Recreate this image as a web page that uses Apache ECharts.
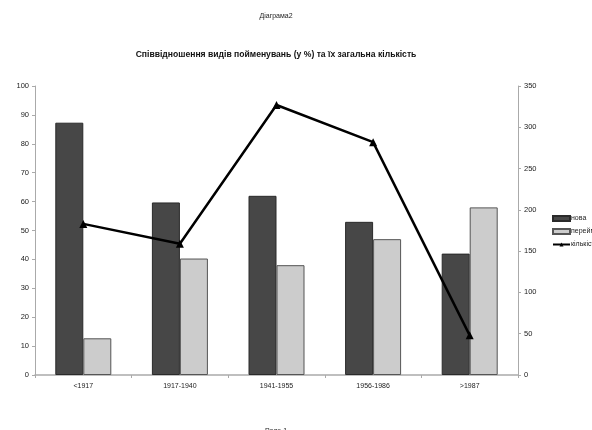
<!DOCTYPE html>
<html><head><meta charset="utf-8">
<script src="https://cdn.jsdelivr.net/npm/echarts@6/dist/echarts.min.js"></script>
<style>html,body{margin:0;padding:0;background:#fff}#c{width:592px;height:430px}</style>
</head><body><div id="c"></div>
<script>
const categories = ['<1917', '1917-1940', '1941-1955', '1956-1986', '>1987'];
const novaValues = [87.3, 59.7, 62, 53, 42];
const pereimValues = [12.7, 40.3, 38, 47, 58];
const countValues = [183, 159, 327, 282, 48];
const leftTicks = [0, 10, 20, 30, 40, 50, 60, 70, 80, 90, 100];
const rightTicks = [0, 50, 100, 150, 200, 250, 300, 350];
const seriesNames = ['нова', 'перейменована', 'кількість'];

const chart = echarts.init(document.getElementById('c'));
const F = 'Liberation Sans, Arial, sans-serif';
chart.setOption({
  animation: false,
  textStyle: { fontFamily: F },
  title: [
    { text: 'Діаграма2', left: 271, textAlign: 'center', top: 8, textStyle: { fontSize: 7, fontWeight: 'normal', color: '#222', fontFamily: F } },
    { text: 'Співвідношення видів пойменувань (у %) та їх загальна кількість', left: 271, textAlign: 'center', top: 45, textStyle: { fontSize: 8.6, fontWeight: 'bold', color: '#111', fontFamily: F } },
    { text: 'Page 1', left: 271, textAlign: 'center', top: 423, textStyle: { fontSize: 7, fontWeight: 'normal', color: '#222', fontFamily: F } }
  ],
  legend: {
    orient: 'vertical', left: 547, top: 210, itemGap: 6, itemWidth: 17, itemHeight: 5,
    textStyle: { fontSize: 7, color: '#222', fontFamily: F, padding: [0, 0, 0, -4] },
    data: [
      { name: seriesNames[0], icon: 'rect' },
      { name: seriesNames[1], icon: 'rect' },
      { name: seriesNames[2] }
    ]
  },
  grid: { left: 35, right: 74, top: 86, bottom: 55 },
  xAxis: {
    type: 'category', data: categories,
    axisLine: { lineStyle: { color: '#aaa', width: 1.5 } },
    axisTick: { show: true, length: 3, lineStyle: { color: '#aaa' } },
    axisLabel: { fontSize: 7, color: '#222', margin: 8 }
  },
  yAxis: [
    { type: 'value', min: 0, max: 100, interval: 10, splitLine: { show: false },
      axisLine: { show: true, lineStyle: { color: '#aaa' } },
      axisTick: { show: true, length: 3, lineStyle: { color: '#aaa' } },
      axisLabel: { fontSize: 7.5, color: '#222', margin: 6,
        formatter: v => leftTicks.includes(v) ? String(v) : '' } },
    { type: 'value', min: 0, max: 350, interval: 50, splitLine: { show: false },
      axisLine: { show: true, lineStyle: { color: '#aaa' } },
      axisTick: { show: true, length: 3, lineStyle: { color: '#aaa' } },
      axisLabel: { fontSize: 7.5, color: '#222', margin: 6,
        formatter: v => rightTicks.includes(v) ? String(v) : '' } }
  ],
  series: [
    { name: seriesNames[0], type: 'bar', data: novaValues, barWidth: 28, barGap: '0%',
      itemStyle: { color: '#474747', borderColor: '#2a2a2a', borderWidth: 1 } },
    { name: seriesNames[1], type: 'bar', data: pereimValues, barWidth: 28, barGap: '0%',
      itemStyle: { color: '#cccccc', borderColor: '#555', borderWidth: 1 } },
    { name: seriesNames[2], type: 'line', yAxisIndex: 1, data: countValues,
      symbol: 'triangle', symbolSize: 8, lineStyle: { color: '#000', width: 2.5 },
      itemStyle: { color: '#000' } }
  ]
});
</script></body></html>
